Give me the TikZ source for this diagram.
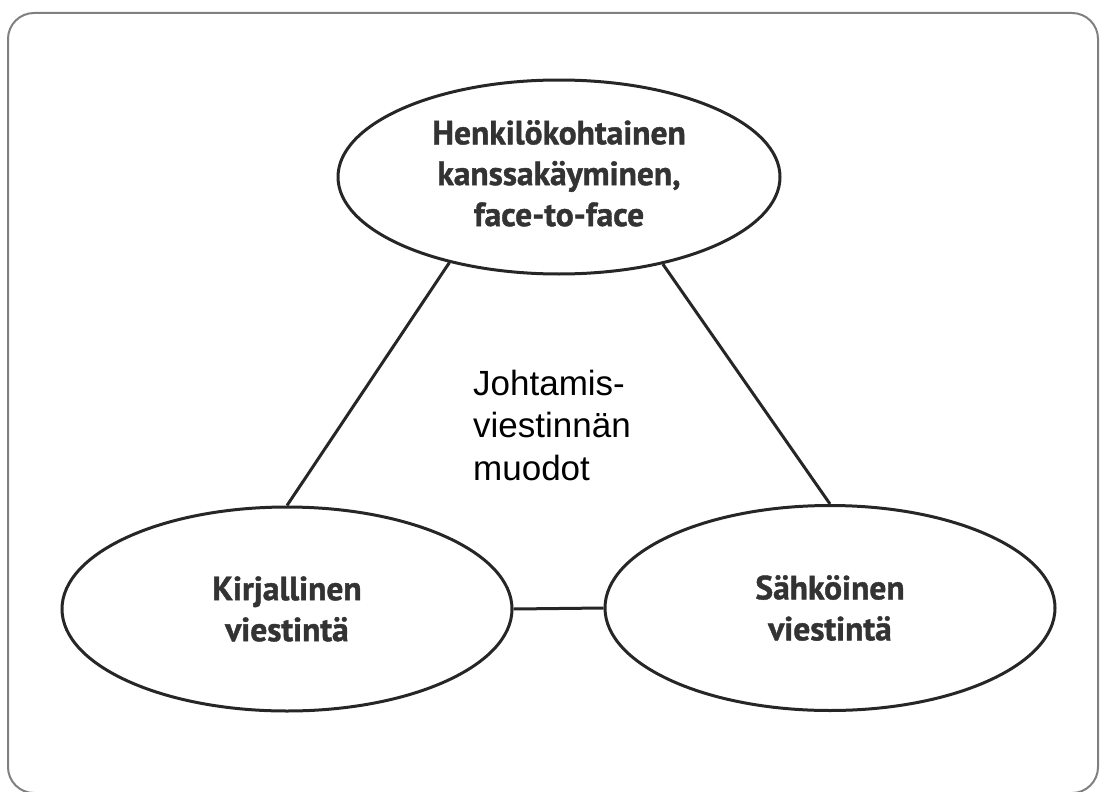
\documentclass[tikz,border=0pt]{standalone}
\usepackage{fontspec}
\setmainfont{Liberation Sans}
\newfontfamily\boldfam[FakeBold=1.2]{PT Sans}
\usetikzlibrary{shapes.geometric}
\begin{document}
\begin{tikzpicture}[x=1pt,y=-1pt,
  oval/.style={draw=black!85, line width=3pt, ellipse, inner sep=0pt, align=center,
    font=\boldfam\bfseries\fontsize{33.5}{41}\selectfont, text=black!80},
  link/.style={draw=black!85, line width=3pt},
  frame/.style={draw=black!50, line width=2pt, rounded corners=26pt}]
\useasboundingbox (0,0) rectangle (1100,792);
\draw[frame] (8,13) rectangle (1098,793);
\node[oval, minimum width=442pt, minimum height=194pt] (top) at (559,177) {\raisebox{-5pt}{\begin{tabular}{@{}c@{}}Henkilökohtainen\\[-0.2pt]kanssakäyminen,\\face-to-face\end{tabular}}};
\node[oval, minimum width=450pt, minimum height=204pt] (left) at (287,609) {Kirjallinen\\viestintä};
\node[oval, minimum width=450pt, minimum height=205pt] (right) at (830,608) {Sähköinen\\viestintä};
\node[font=\fontsize{35}{42.5}\selectfont, align=left, anchor=west, inner sep=0pt] (center) at (473,425) {Johtamis-\\viestinnän\\muodot};
\draw[link] (top.218) -- (left.north);
\draw[link] (top.320) -- (right.north);
\draw[link] (left.east) -- (right.west);
\end{tikzpicture}
\end{document}
